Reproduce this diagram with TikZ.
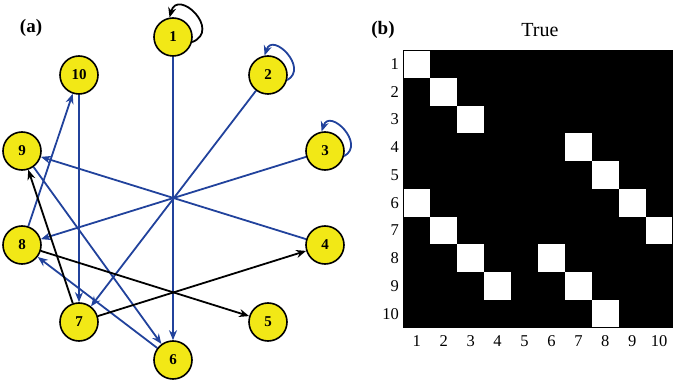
\documentclass[tikz,border=0pt]{standalone}
\usepackage{fontspec}
\setmainfont{Liberation Serif}
\usetikzlibrary{arrows.meta}
\definecolor{eblue}{RGB}{33,66,156}
\definecolor{nyellow}{RGB}{242,232,22}
\pgfdeclarelayer{bg}
\pgfsetlayers{bg,main}
\begin{document}
\begin{tikzpicture}[x=1pt,y=-1pt,
  gnode/.style={circle,draw=black,line width=1.6pt,fill=nyellow,minimum size=38pt,inner sep=0pt,font=\bfseries\fontsize{15}{15}\selectfont},
  bl/.style={eblue,line width=1.8pt,-{Stealth[length=10pt,width=8pt]}},
  bk/.style={black,line width=1.8pt,-{Stealth[length=10pt,width=8pt]}},
  axl/.style={font=\fontsize{16.5}{16.5}\selectfont,inner sep=0pt},
  plab/.style={font=\bfseries\fontsize{19}{19}\selectfont}]
\useasboundingbox (0,0) rectangle (675,382);
% panel labels
\node[plab] (la) at (31,28) {(a)};
\node[plab] (lb) at (383,30) {(b)};
% nodes
\node[gnode] (n1) at (173,37) {1};
\node[gnode] (n2) at (268,75) {2};
\node[gnode] (n3) at (325,151) {3};
\node[gnode] (n4) at (325,245) {4};
\node[gnode] (n5) at (268,322) {5};
\node[gnode] (n6) at (173,360) {6};
\node[gnode] (n7) at (79,322) {7};
\node[gnode] (n8) at (22,245) {8};
\node[gnode] (n9) at (22,151) {9};
\node[gnode] (n10) at (79,75) {10};
\begin{pgfonlayer}{bg}
\draw[bl] (n1) -- (n6);
\draw[bl] (n10) -- (n7);
\draw[bl] (n2) -- (n7);
\draw[bl] (n3) -- (n8);
\draw[bl] (n4) -- (n9);
\draw[bl] (n8) -- (n10);
\draw[bl] (n9) -- (n6);
\draw[bl] (n6) -- (n8);
\draw[bk] (n7) -- (n9);
\draw[bk] (n7) -- (n4);
\draw[bk] (n8) -- (n5);
\end{pgfonlayer}
% self loops
\draw[bk] (n1.-15) .. controls +(30,-12) and +(8,-30) .. (n1.100);
\draw[bl] (n2.-15) .. controls +(22,-12) and +(8,-24) .. (n2.100);
\draw[bl] (n3.-15) .. controls +(22,-12) and +(8,-24) .. (n3.100);
% matrix
\node[font=\fontsize{20}{20}\selectfont] (title) at (540,30) {True};
\fill[black] (403.3,50) rectangle (672.7,327.7);
\def\cw{26.94}
\def\ch{27.77}
\foreach \r/\c in {1/1,2/2,3/3,4/7,5/8,6/9,7/10,6/1,7/2,8/3,8/6,9/4,9/7,10/8}{
  \fill[white] ({403.3+(\c-1)*\cw},{50+(\r-1)*\ch}) rectangle ({403.3+\c*\cw},{50+\r*\ch});
}
\draw[black,line width=0.8pt] (403.3,50) rectangle (672.7,327.7);
\foreach \i in {1,...,10}{
  \node[axl,anchor=east] (ry\i) at (399,{50+(\i-0.5)*\ch}) {\i};
  \node[axl,anchor=center] (cx\i) at ({403.3+(\i-0.5)*\cw},341) {\i};
}
\end{tikzpicture}
\end{document}
